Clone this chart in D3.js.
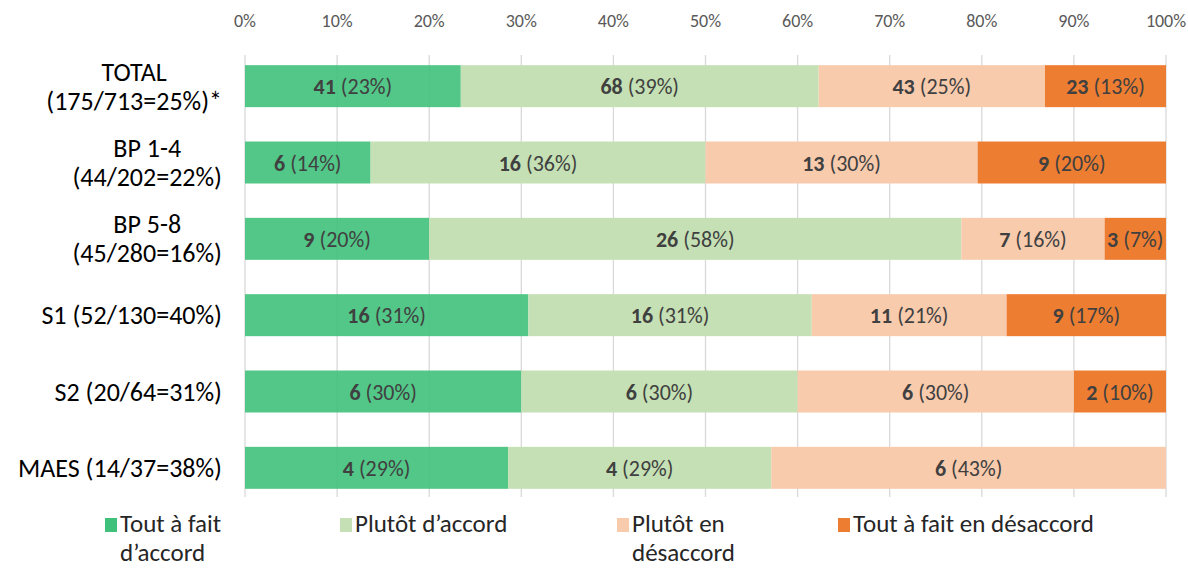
<!DOCTYPE html>
<html>
<head>
<meta charset="utf-8">
<script src="https://cdn.jsdelivr.net/npm/d3@7"></script>
<style>
  body { margin: 0; background: #fff; }
  svg { font-family: Carlito, Lato, "Open Sans", sans-serif; }
</style>
</head>
<body>
<svg id="chart"></svg>
<script>
// Groups (labels split on lines as in the chart)
const groups = [
  ["TOTAL", "(175/713=25%)*"],
  ["BP 1-4", "(44/202=22%)"],
  ["BP 5-8", "(45/280=16%)"],
  ["S1 (52/130=40%)"],
  ["S2 (20/64=31%)"],
  ["MAES (14/37=38%)"]
];

// Response categories
const series = ["Tout à fait d’accord", "Plutôt d’accord", "Plutôt en désaccord", "Tout à fait en désaccord"];
const legendLines = [["Tout à fait", "d’accord"], ["Plutôt d’accord"], ["Plutôt en", "désaccord"], ["Tout à fait en désaccord"]];

// Counts per group, one array per series
const toutAccord = [41, 6, 9, 16, 6, 4];
const plutotAccord = [68, 16, 26, 16, 6, 4];
const plutotDesaccord = [43, 13, 7, 11, 6, 6];
const toutDesaccord = [23, 9, 3, 9, 2, 0];

const tickValues = [0, 0.1, 0.2, 0.3, 0.4, 0.5, 0.6, 0.7, 0.8, 0.9, 1];

const colors = ["#3fc17b", "#c5e0b4", "#f8cbad", "#ed7d31"];

const width = 1188;
const height = 568;

const svg = d3.select("#chart")
    .attr("width", width)
    .attr("height", height);

// Build rows with shares
const counts = [toutAccord, plutotAccord, plutotDesaccord, toutDesaccord];
const rows = groups.map((g, i) => {
    const vals = counts.map(c => c[i]);
    const total = d3.sum(vals);
    const row = { key: i, total };
    vals.forEach((v, j) => { row[j] = v / total; row["n" + j] = v; });
    return row;
});

const stack = d3.stack().keys([0, 1, 2, 3]);
const layers = stack(rows);

const x = d3.scaleLinear().domain([0, 1]).range([245, 1166]);
const y = d3.scaleBand().domain(d3.range(groups.length)).range([48, 506]).paddingInner(0.45).paddingOuter(0.225);

// Gridlines
svg.append("g")
    .selectAll("line")
    .data(tickValues)
    .join("line")
    .attr("x1", d => x(d)).attr("x2", d => x(d))
    .attr("y1", 55).attr("y2", 497)
    .attr("stroke", "#d9d9d9")
    .attr("stroke-width", 1.3);

// Top axis labels
svg.append("g")
    .selectAll("text")
    .data(tickValues)
    .join("text")
    .attr("x", d => x(d))
    .attr("y", 27)
    .attr("text-anchor", "middle")
    .attr("font-size", 18)
    .attr("fill", "#595959")
    .text(d3.format(".0%"));

// Bars
const layerG = svg.append("g")
    .selectAll("g")
    .data(layers)
    .join("g")
    .attr("fill", (d, i) => colors[i])
    .attr("fill-opacity", (d, i) => i === 0 ? 0.9 : 1);

layerG.selectAll("rect")
    .data(d => d)
    .join("rect")
    .attr("x", d => x(d[0]))
    .attr("y", d => y(d.data.key))
    .attr("width", d => x(d[1]) - x(d[0]))
    .attr("height", y.bandwidth());

// Value labels
const pct = d3.format(".0%");
layers.forEach((layer, li) => {
    layer.forEach(d => {
        const n = d.data["n" + li];
        if (!n) return;
        const t = svg.append("text")
            .attr("x", (x(d[0]) + x(d[1])) / 2)
            .attr("y", y(d.data.key) + y.bandwidth() / 2 + 8)
            .attr("text-anchor", "middle")
            .attr("font-size", 22)
            .attr("fill", "#404040");
        t.append("tspan").attr("font-weight", "bold").text(n);
        t.append("tspan").text(" (" + pct(d[1] - d[0]) + ")");
    });
});

// Category labels
const catG = svg.append("g");
groups.forEach((lines, i) => {
    const cy = y(i) + y.bandwidth() / 2;
    const g = catG.append("g");
    const texts = lines.map((l, k) => g.append("text")
        .attr("font-size", 26)
        .attr("fill", "#000")
        .attr("text-anchor", "middle")
        .attr("y", cy + 9 + (k - (lines.length - 1) / 2) * 29)
        .text(l));
    const maxW = d3.max(texts, t => t.node().getComputedTextLength());
    texts.forEach(t => t.attr("x", 222 - maxW / 2));
});

// Legend
const legendX = [105, 340, 617, 838];
legendLines.forEach((lines, i) => {
    const g = svg.append("g");
    g.append("rect")
        .attr("x", legendX[i]).attr("y", 518)
        .attr("width", 12).attr("height", 14)
        .attr("fill", colors[i]);
    lines.forEach((l, k) => {
        g.append("text")
            .attr("x", legendX[i] + 15)
            .attr("y", 532 + k * 29)
            .attr("font-size", 25)
            .attr("fill", "#262626")
            .text(l);
    });
});
</script>
</body>
</html>
